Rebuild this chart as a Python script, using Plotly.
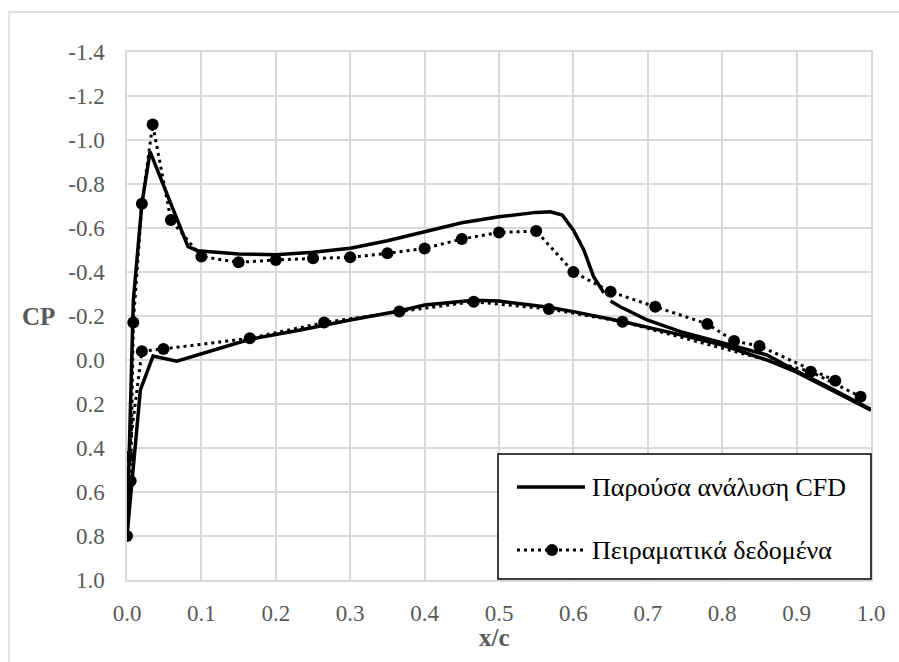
import plotly.graph_objects as go

# Pressure coefficient over the chord: CFD result and wind-tunnel measurements.
# Each series runs around the section (lower surface -> leading edge -> upper surface).

# CFD, first part: lower trailing edge -> leading edge -> upper surface up to the shock
cfd_x_a = [1.0, 0.95, 0.9, 0.86, 0.8, 0.744, 0.666, 0.6, 0.567, 0.5, 0.466, 0.4,
           0.366, 0.3, 0.233, 0.165, 0.139, 0.098, 0.067, 0.035, 0.018, 0.0,
           0.0085, 0.02, 0.031, 0.082, 0.095, 0.15, 0.2, 0.25, 0.3, 0.35, 0.4,
           0.45, 0.5, 0.55, 0.569, 0.585, 0.6, 0.614, 0.627, 0.641]
cfd_cp_a = [0.228, 0.14, 0.055, 0.0, -0.068, -0.114, -0.175, -0.22, -0.24, -0.268,
            -0.272, -0.25, -0.223, -0.182, -0.136, -0.094, -0.068, -0.03, 0.005,
            -0.018, 0.136, 0.8,
            -0.27, -0.71, -0.947, -0.515, -0.497, -0.482, -0.478, -0.49, -0.508,
            -0.542, -0.583, -0.624, -0.651, -0.671, -0.674, -0.659, -0.59, -0.5,
            -0.38, -0.305]
# CFD, second part: upper surface aft of the shock to the trailing edge
cfd_x_b = [0.65, 0.663, 0.699, 0.744, 0.802, 0.86, 0.9, 0.95, 1.0]
cfd_cp_b = [-0.268, -0.242, -0.182, -0.129, -0.076, -0.023, 0.05, 0.135, 0.225]

# Experimental data: upper trailing edge -> leading edge -> lower surface
exp_x = [0.952, 0.85, 0.816, 0.78, 0.71, 0.65, 0.6, 0.55, 0.5, 0.45, 0.4, 0.35,
         0.3, 0.25, 0.2, 0.15, 0.1, 0.059, 0.0345, 0.02, 0.0085, 0.005, 0.0,
         0.002, 0.02, 0.049, 0.165, 0.265, 0.366, 0.466, 0.567, 0.666, 0.919, 0.986]
exp_cp = [0.094, -0.064, -0.086, -0.164, -0.242, -0.31, -0.40, -0.586, -0.58,
          -0.55, -0.507, -0.485, -0.467, -0.462, -0.455, -0.444, -0.47, -0.636,
          -1.07, -0.71, -0.17, 0.55, 0.8,
          0.44, -0.04, -0.05, -0.099, -0.17, -0.22, -0.265, -0.232, -0.174,
          0.053, 0.167]

x_ticks = [0.0, 0.1, 0.2, 0.3, 0.4, 0.5, 0.6, 0.7, 0.8, 0.9, 1.0]
y_ticks = [-1.4, -1.2, -1.0, -0.8, -0.6, -0.4, -0.2, 0.0, 0.2, 0.4, 0.6, 0.8, 1.0]

cfd_name = "Παρούσα ανάλυση CFD"
exp_name = "Πειραματικά δεδομένα"
x_title = "x/c"
y_title = "CP"

SERIF = "Liberation Serif"
GRID = "#d9d9d9"
LABEL = "#595959"

# plot-area geometry in pixels
W, H = 899, 662
ML, MR, MT, MB = 127, 28, 52, 82
PW, PH = W - ML - MR, H - MT - MB


def px(xp):
    return (xp - ML) / PW


def py(yp):
    return (H - MB - yp) / PH


fig = go.Figure()
fig.add_trace(go.Scatter(
    x=cfd_x_a + [None] + cfd_x_b,
    y=cfd_cp_a + [None] + cfd_cp_b,
    mode="lines", name=cfd_name, connectgaps=False,
    line=dict(color="black", width=3.5),
))
fig.add_trace(go.Scatter(
    x=exp_x, y=exp_cp, mode="lines+markers", name=exp_name,
    line=dict(color="black", width=3, dash="3px,4px"),
    marker=dict(color="black", size=12),
))

axis_common = dict(
    showgrid=True, gridcolor=GRID, gridwidth=1.5,
    zeroline=False, showline=True, linecolor=GRID, linewidth=1.5, mirror=True,
    ticks="", tickfont=dict(family=SERIF, size=23, color=LABEL),
)

# boxed key in the lower-right corner of the plot area
box_l, box_r, box_t, box_b = 498, 871, 454, 579
row1, row2 = 487, 550
sample_l, sample_r, text_l = 517, 585, 590

shapes = [
    # outer chart-area frame
    dict(type="rect", xref="paper", yref="paper",
         x0=px(9), x1=px(910), y0=py(680), y1=py(12),
         line=dict(color=GRID, width=1.5), layer="below"),
    dict(type="rect", xref="paper", yref="paper",
         x0=px(box_l), x1=px(box_r), y0=py(box_b), y1=py(box_t),
         line=dict(color="black", width=1.5), fillcolor="white", layer="above"),
    dict(type="line", xref="paper", yref="paper",
         x0=px(sample_l), x1=px(sample_r), y0=py(row1), y1=py(row1),
         line=dict(color="black", width=3.5), layer="above"),
    dict(type="line", xref="paper", yref="paper",
         x0=px(sample_l), x1=px(sample_r), y0=py(row2), y1=py(row2),
         line=dict(color="black", width=3, dash="3px,4px"), layer="above"),
    dict(type="circle", xref="paper", yref="paper",
         x0=px(552 - 6), x1=px(552 + 6), y0=py(row2 + 6), y1=py(row2 - 6),
         line=dict(color="black", width=0), fillcolor="black", layer="above"),
]

annotations = [
    dict(text=f"<b>{y_title}</b>", xref="paper", yref="paper",
         x=px(38), y=py(316), xanchor="center", yanchor="middle", showarrow=False,
         font=dict(family=SERIF, size=25, color=LABEL)),
    dict(text=f"<b>{x_title}</b>", xref="paper", yref="paper",
         x=px(494), y=py(637), xanchor="center", yanchor="middle", showarrow=False,
         font=dict(family=SERIF, size=25, color=LABEL)),
    dict(text=cfd_name, xref="paper", yref="paper",
         x=px(text_l), y=py(row1), xanchor="left", yanchor="middle", showarrow=False,
         font=dict(family=SERIF, size=26, color="black")),
    dict(text=exp_name, xref="paper", yref="paper",
         x=px(text_l), y=py(row2), xanchor="left", yanchor="middle", showarrow=False,
         font=dict(family=SERIF, size=26, color="black")),
]

fig.update_layout(
    width=W, height=H, autosize=False,
    margin=dict(l=ML, r=MR, t=MT, b=MB),
    paper_bgcolor="white", plot_bgcolor="white",
    font=dict(family=SERIF),
    xaxis=dict(range=[0, 1.0], tickvals=x_ticks,
               ticktext=[f"{v:.1f}" for v in x_ticks],
               ticklabelstandoff=12, **axis_common),
    yaxis=dict(range=[1.0, -1.4], tickvals=y_ticks,
               ticktext=[f"{v:.1f}" if v != 0 else "0.0" for v in y_ticks],
               ticklabelstandoff=16, **axis_common),
    showlegend=False,
    shapes=shapes,
    annotations=annotations,
)

fig.write_html("out.html")
